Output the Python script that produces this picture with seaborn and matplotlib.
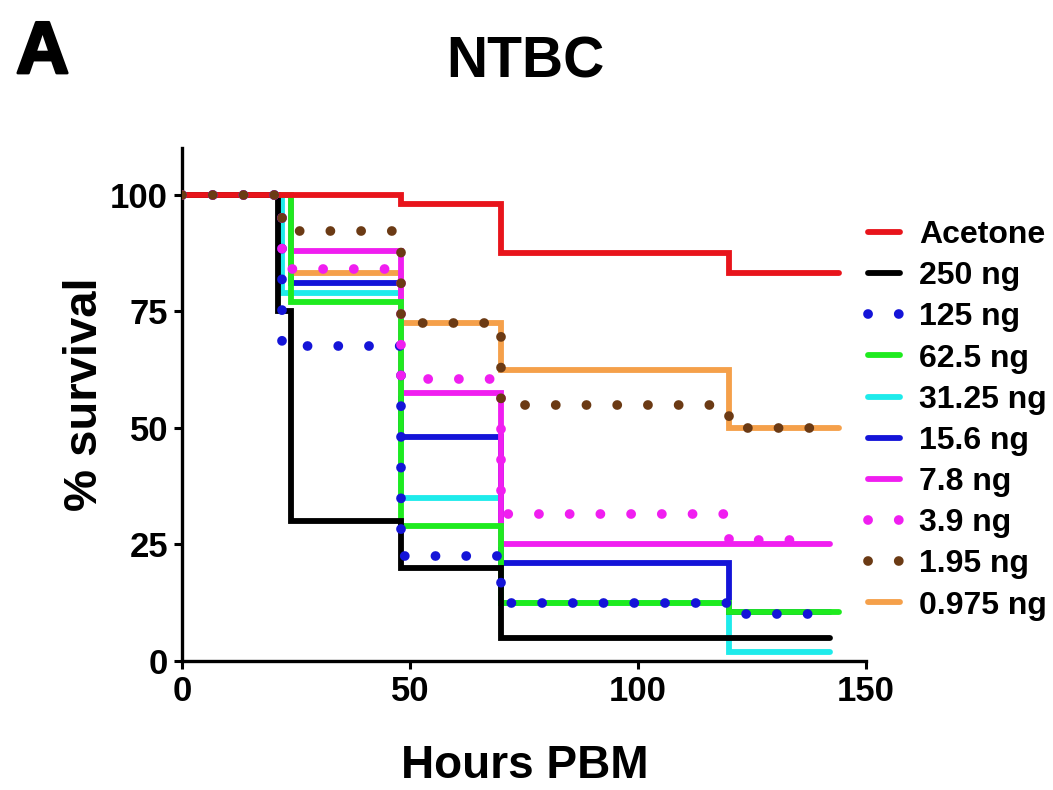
import matplotlib
matplotlib.use("Agg")
import matplotlib.pyplot as plt
import matplotlib.patheffects as pe
import seaborn as sns
import pandas as pd

# ---- data ----
labels = ["Acetone", "250 ng", "125 ng", "62.5 ng", "31.25 ng",
          "15.6 ng", "7.8 ng", "3.9 ng", "1.95 ng", "0.975 ng"]
colors = ["#E8141B", "#000000", "#1414D8", "#1EEB1E", "#1EEBEB",
          "#1414D8", "#F01EF0", "#F01EF0", "#6B3A14", "#F5A04A"]
dotted = [False, False, True, False, False, False, False, True, True, False]

t_acetone = [0, 48, 70, 120, 144]
s_acetone = [100, 98, 87.5, 83.3, 83.3]
t_250 = [0, 21, 24, 48, 70, 142]
s_250 = [100, 75, 30, 20, 5, 5]
t_125 = [0, 22, 48, 70, 120, 142]
s_125 = [100, 67.5, 22.5, 12.5, 10, 10]
t_62 = [0, 24, 48, 70, 120, 144]
s_62 = [100, 77, 29, 12.5, 10.4, 10.4]
t_31 = [0, 22, 48, 70, 120, 142]
s_31 = [100, 79, 35, 12.5, 2, 2]
t_15 = [0, 24, 48, 70, 120, 142]
s_15 = [100, 81, 48, 21, 10.4, 10.4]
t_7 = [0, 24, 48, 70, 142]
s_7 = [100, 88, 57.5, 25, 25]
t_3 = [0, 22, 48, 70, 120, 140]
s_3 = [100, 84, 60.5, 31.5, 26, 26]
t_1 = [0, 22, 48, 70, 120, 140]
s_1 = [100, 92.3, 72.5, 54.8, 50, 50]
t_0 = [0, 24, 48, 70, 120, 144]
s_0 = [100, 83.3, 72.5, 62.5, 50, 50]

times = [t_acetone, t_250, t_125, t_62, t_31, t_15, t_7, t_3, t_1, t_0]
survs = [s_acetone, s_250, s_125, s_62, s_31, s_15, s_7, s_3, s_1, s_0]
zorders = [2.7, 2.6, 3.0, 2.5, 2.0, 2.1, 2.4, 3.0, 3.0, 2.3]

xticks = [0, 50, 100, 150]
yticks = [0, 25, 50, 75, 100]

# ---- style ----
sns.set_theme(style="ticks")
plt.rcParams["font.family"] = ["Liberation Sans", "DejaVu Sans"]
plt.rcParams["font.weight"] = "bold"
for key in ["text.color", "axes.labelcolor", "xtick.color", "ytick.color",
            "axes.edgecolor"]:
    plt.rcParams[key] = "black"

fig = plt.figure(figsize=(10.53, 7.90), dpi=100)
ax = fig.add_axes([182 / 1053, 1 - 661 / 790, (866 - 182) / 1053, (661 - 148) / 790])

for lab, col, dot, t, s, z in zip(labels, colors, dotted, times, survs, zorders):
    df = pd.DataFrame({"Hours": t, "Survival": s})
    if dot:
        sns.lineplot(data=df, x="Hours", y="Survival", ax=ax, color=col,
                     estimator=None, sort=False, drawstyle="steps-post",
                     linewidth=7, linestyle=(0, (0.01, 3.15)),
                     dash_capstyle="round", solid_capstyle="round",
                     label=lab, zorder=z)
    else:
        sns.lineplot(data=df, x="Hours", y="Survival", ax=ax, color=col,
                     estimator=None, sort=False, drawstyle="steps-post",
                     linewidth=4.2, solid_joinstyle="miter",
                     label=lab, zorder=z)

ax.set_xlim(0, 150)
ax.set_ylim(0, 110)
ax.set_xticks(xticks)
ax.set_yticks(yticks)
ax.set_xticklabels([str(v) for v in xticks], fontsize=25, fontweight="bold")
ax.set_yticklabels([str(v) for v in yticks], fontsize=25, fontweight="bold")
ax.tick_params(direction="out", length=6, width=2.2, pad=4, color="black",
               labelcolor="black")
for side in ["top", "right"]:
    ax.spines[side].set_visible(False)
for side in ["left", "bottom"]:
    ax.spines[side].set_linewidth(2.4)
    ax.spines[side].set_color("black")

ax.set_xlabel("Hours PBM", fontsize=33, fontweight="bold", color="black")
ax.set_ylabel("% survival", fontsize=34, fontweight="bold", color="black")
ax.xaxis.set_label_coords(0.5015, -0.162)
ax.yaxis.set_label_coords(-0.11, 0.52)

ax.get_legend().remove()
handles, labs = ax.get_legend_handles_labels()
leg = fig.legend(handles, labs, loc="upper left",
                 bbox_to_anchor=(868 / 1053, 1 - 220 / 790),
                 frameon=False, handlelength=1.0, handletextpad=0.6,
                 labelspacing=0.35, borderpad=0, borderaxespad=0,
                 prop={"weight": "bold", "size": 23})
for txt in leg.get_texts():
    txt.set_color("black")

fig.text(525 / 1053, 1 - 77 / 790, "NTBC", ha="center", va="baseline",
         fontsize=41, fontweight="bold", color="black")
fig.text(16 / 1053, 1 - 73 / 790, "A", ha="left", va="baseline",
         fontsize=53, fontweight="heavy", color="black",
         path_effects=[pe.withStroke(linewidth=2, foreground="black")])

fig.savefig("out.png", dpi=100, facecolor="white")
